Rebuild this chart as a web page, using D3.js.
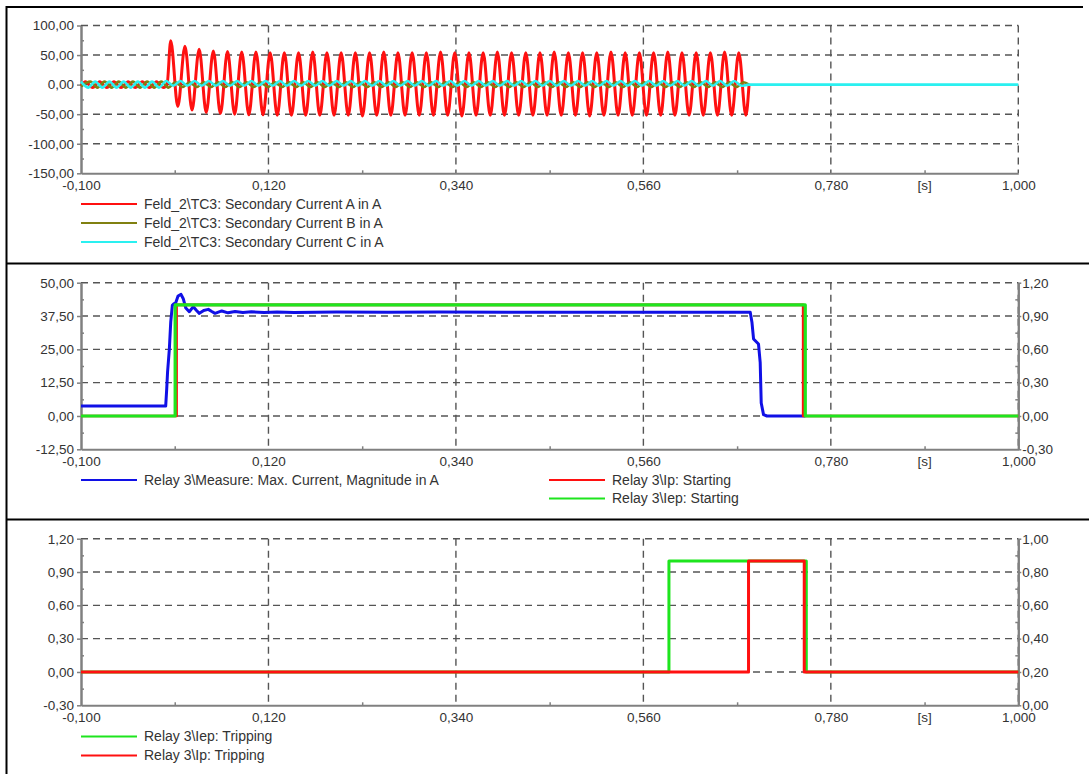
<!DOCTYPE html>
<meta charset="utf-8">
<script src="https://d3js.org/d3.v7.min.js"></script>
<style>
  body { margin: 0; background: #fff; }
  svg text { font-family: "Liberation Sans", Arial, sans-serif; font-size: 13.5px; fill: #333; }
  svg text.leg { font-size: 14px; }
</style>
<body>
<svg width="1089" height="774"></svg>
<script>
// ---------- data ----------
var HALF_CYCLE = 1 / 120;          // 60 Hz, one value per half cycle
var tFault = 0.001, tClear = 0.684;

var xTicks = [-0.1, 0.12, 0.34, 0.56, 0.78, 1.0];
var xMinor = [0.01, 0.23, 0.45, 0.67, 0.89];

// panel 1: secondary currents [A], peaks/troughs per half cycle
var preA = [5, -5, 5, -5, 5, -5, 5, -5, 5, -5, 5, -5];
var postA = [
  74, -37, 65, -43, 60, -47, 57, -49, 56, -50, 55, -51, 55, -51, 54, -52,
  54, -52, 54, -52, 55, -52, 54, -52, 54, -52, 54, -53, 54, -52, 55, -52,
  54, -52, 54, -52, 54, -52, 55, -52, 54, -53, 54, -52, 54, -52, 55, -52,
  54, -52, 54, -52, 54, -52, 55, -52, 54, -52, 54, -53, 54, -52, 55, -52,
  54, -52, 54, -52, 54, -52, 55, -52, 54, -52, 54, -52, 54, -52, 55, -52,
  54, -52
];
var valB = [
  5, -5, 5, -5, 5, -5, 5, -5, 5, -5, 5, -5,
  4, -4, 4, -4, 4, -4, 4, -4, 4, -4, 4, -4, 4, -4, 4, -4,
  4, -4, 4, -4, 4, -4, 4, -4, 4, -4, 4, -4, 4, -4, 4, -4,
  4, -4, 4, -4, 4, -4, 4, -4, 4, -4, 4, -4, 4, -4, 4, -4,
  4, -4, 4, -4, 4, -4, 4, -4, 4, -4, 4, -4, 4, -4, 4, -4,
  4, -4, 4, -4, 4, -4, 4, -4, 4, -4, 4, -4, 4, -4, 4, -4,
  4
];
var valC = [
  5, -5, 5, -5, 5, -5, 5, -5, 5, -5, 5, -5,
  6, -2, 6, -2, 6, -2, 6, -2, 6, -2, 6, -2, 6, -2, 6, -2,
  6, -2, 6, -2, 6, -2, 6, -2, 6, -2, 6, -2, 6, -2, 6, -2,
  6, -2, 6, -2, 6, -2, 6, -2, 6, -2, 6, -2, 6, -2, 6, -2,
  6, -2, 6, -2, 6, -2, 6, -2, 6, -2, 6, -2, 6, -2, 6, -2,
  6, -2, 6, -2, 6, -2, 6, -2, 6, -2, 6, -2, 6, -2, 6, -2,
  6, -2
];
var topTicks = [-150, -100, -50, 0, 50, 100];
var topMinor = [-125, -75, -25, 25, 75];

// panel 2: measured max current [A] and starting signals
var blueT = [-0.100, -0.0006, 0.0006, 0.0016, 0.0037, 0.0053, 0.0072, 0.0090, 0.0112, 0.0139,
  0.0174, 0.0200, 0.0230, 0.0271, 0.0318, 0.0356, 0.0389, 0.0440, 0.0494, 0.0535,
  0.0573, 0.0652, 0.0726, 0.0808, 0.0900, 0.1000, 0.1150, 0.1300, 0.1500, 0.2000,
  0.2600, 0.3200, 0.4000, 0.4800, 0.5600, 0.6400, 0.6854, 0.6874, 0.6893, 0.6951,
  0.6971, 0.6983, 0.7010, 0.7050, 0.7500];
var blueV = [3.7, 3.7, 10.2, 16.5, 25.2, 35.2, 41.5, 42.1, 42.5, 45.0,
  45.6, 44.0, 40.5, 39.1, 41.0, 39.6, 38.5, 39.6, 40.0, 39.2,
  38.5, 39.4, 38.7, 39.2, 38.8, 39.1, 38.8, 39.0, 38.8, 39.0,
  38.9, 39.0, 38.9, 38.9, 38.9, 38.9, 38.9, 35.2, 28.9, 27.0,
  20.0, 4.9, 0.5, 0.0, 0.0];
var ipStartT = [-0.1, 0.0122, 0.7475, 1.0], ipStartV = [0, 1, 0, 0];
var iepStartT = [-0.1, 0.0105, 0.7500, 1.0], iepStartV = [0, 1, 0, 0];
var midTicks = [-12.5, 0, 12.5, 25, 37.5, 50];
var midMinor = [-6.25, 6.25, 18.75, 31.25, 43.75];
var midRTicks = [-0.3, 0, 0.3, 0.6, 0.9, 1.2];
var midRMinor = [-0.15, 0.15, 0.45, 0.75, 1.05];

// panel 3: tripping signals
var iepTripT = [-0.1, 0.590, 0.7512, 1.0], iepTripV = [0, 1, 0, 0];
var ipTripT = [-0.1, 0.6834, 0.7488, 1.0], ipTripV = [0, 1, 0, 0];
var botTicks = [-0.3, 0, 0.3, 0.6, 0.9, 1.2];
var botMinor = [-0.15, 0.15, 0.45, 0.75, 1.05];
var botRTicks = [0, 0.2, 0.4, 0.6, 0.8, 1.0];
var botRMinor = [0.1, 0.3, 0.5, 0.7, 0.9];

// ---------- chart ----------
var svg = d3.select("svg");
var loc = d3.formatLocale({decimal: ",", thousands: ".", grouping: [3], currency: ["", ""], minus: "-"});
var fmt2 = loc.format(".2f"), fmt3 = loc.format(".3f");

var x = d3.scaleLinear().domain([-0.1, 1.0]).range([81, 1018.3]);

function wave(t0, vals) {
  return vals.map(function(v, i) { return [t0 + i * HALF_CYCLE, v]; });
}
function zip(ts, vs) { return ts.map(function(t, i) { return [t, vs[i]]; }); }

var GRID = "#555", AXIS = "#808080";

function styleAxis(sel) {
  sel.attr("font-size", null).attr("font-family", null);
  sel.select(".domain").attr("stroke", AXIS).attr("stroke-width", 2);
  sel.selectAll(".tick line").attr("stroke", AXIS).attr("stroke-width", 1.5);
}

function drawPanel(p) {
  var g = svg.append("g");
  var yL = d3.scaleLinear().domain([p.left[0], p.left[p.left.length - 1]]).range([p.bottom, p.top]);

  // dashed grid
  g.selectAll(null).data(p.left.slice(1)).join("line")
    .attr("x1", x(-0.1)).attr("x2", x(1.0))
    .attr("y1", function(d) { return yL(d); }).attr("y2", function(d) { return yL(d); })
    .attr("stroke", GRID).attr("stroke-width", 1.4).attr("stroke-dasharray", "7,5");
  g.selectAll(null).data(xTicks.slice(1)).join("line")
    .attr("x1", function(d) { return x(d); }).attr("x2", function(d) { return x(d); })
    .attr("y1", p.top).attr("y2", p.bottom)
    .attr("stroke", GRID).attr("stroke-width", 1.4).attr("stroke-dasharray", "7,5");

  // left axis, major out / minor in
  g.append("g").attr("transform", "translate(" + x(-0.1) + ",0)")
    .call(d3.axisLeft(yL).tickValues(p.left).tickSize(4).tickSizeOuter(0).tickPadding(3).tickFormat(fmt2))
    .call(styleAxis);
  g.append("g").attr("transform", "translate(" + x(-0.1) + ",0)")
    .call(d3.axisRight(yL).tickValues(p.leftMinor).tickSize(3).tickSizeOuter(0).tickFormat(""))
    .call(styleAxis);

  // right axis
  var yR = null;
  if (p.right) {
    yR = d3.scaleLinear().domain([p.right[0], p.right[p.right.length - 1]]).range([p.bottom, p.top]);
    g.append("g").attr("transform", "translate(" + x(1.0) + ",0)")
      .call(d3.axisRight(yR).tickValues(p.right).tickSize(3).tickSizeOuter(0).tickPadding(1).tickFormat(fmt2))
      .call(styleAxis);
    g.append("g").attr("transform", "translate(" + x(1.0) + ",0)")
      .call(d3.axisLeft(yR).tickValues(p.rightMinor).tickSize(3).tickSizeOuter(0).tickFormat(""))
      .call(styleAxis);
  }

  // time axis
  g.append("g").attr("transform", "translate(0," + p.bottom + ")")
    .call(d3.axisBottom(x).tickValues(xTicks).tickSize(0).tickSizeOuter(0).tickPadding(7).tickFormat(fmt3))
    .call(styleAxis);
  g.append("g").attr("transform", "translate(0," + p.bottom + ")")
    .call(d3.axisTop(x).tickValues(xMinor).tickSize(3).tickSizeOuter(0).tickFormat(""))
    .call(styleAxis)
    .select(".domain").remove();
  g.append("text").attr("x", x(0.89)).attr("y", p.bottom + 7).attr("dy", "0.71em")
    .attr("text-anchor", "middle").text("[s]");

  // series
  p.series.forEach(function(s) {
    var y = s.axis === "right" ? yR : yL;
    var line = d3.line()
      .x(function(d) { return x(d[0]); })
      .y(function(d) { return y(d[1]); })
      .curve(s.curve || d3.curveLinear);
    g.append("path").datum(s.data)
      .attr("fill", "none").attr("stroke", s.color).attr("stroke-width", s.width || 3)
      .attr("stroke-linejoin", "round")
      .attr("d", line);
  });

  // legend
  var lg = g.selectAll(null).data(p.legend).join("g")
    .attr("transform", function(d) { return "translate(" + d.x + "," + d.y + ")"; });
  lg.append("line").attr("x1", 0).attr("x2", 56)
    .attr("stroke", function(d) { return d.color; }).attr("stroke-width", 2);
  lg.append("text").attr("class", "leg").attr("x", 63).attr("dy", "0.35em")
    .text(function(d) { return d.name; });
}

var RED = "#ff1010", GREEN = "#1ee51e", BLUE = "#1010e6", CYAN = "#2af0f0", OLIVE = "#808010";

var curA = [[-0.1, -2]].concat(wave(-0.0947, preA), [[tFault, 0]], wave(0.0053, postA), [[tClear, 0]]);
var curB = [[-0.1, -3]].concat(wave(-0.0891, valB), [[tClear, 0]]);
var curC = wave(-0.1, valC).concat([[tClear, 0], [1.0, 0]]);

drawPanel({
  top: 25.5, bottom: 173.3, left: topTicks, leftMinor: topMinor,
  series: [
    {data: curA, color: RED, width: 3, curve: d3.curveMonotoneX},
    {data: curB, color: OLIVE, width: 2.6, curve: d3.curveMonotoneX},
    {data: curC, color: CYAN, width: 2.6, curve: d3.curveMonotoneX}
  ],
  legend: [
    {x: 81, y: 204, color: RED, name: "Feld_2\\TC3: Secondary Current A in A"},
    {x: 81, y: 223, color: OLIVE, name: "Feld_2\\TC3: Secondary Current B in A"},
    {x: 81, y: 242, color: CYAN, name: "Feld_2\\TC3: Secondary Current C in A"}
  ]
});

drawPanel({
  top: 282.7, bottom: 449.3, left: midTicks, leftMinor: midMinor, right: midRTicks, rightMinor: midRMinor,
  series: [
    {data: zip(blueT, blueV), color: BLUE, width: 3},
    {data: zip(ipStartT, ipStartV), color: RED, width: 2.6, axis: "right", curve: d3.curveStepAfter},
    {data: zip(iepStartT, iepStartV), color: GREEN, width: 3.2, axis: "right", curve: d3.curveStepAfter}
  ],
  legend: [
    {x: 81, y: 480, color: BLUE, name: "Relay 3\\Measure: Max. Current, Magnitude in A"},
    {x: 549, y: 480, color: RED, name: "Relay 3\\Ip: Starting"},
    {x: 549, y: 498.5, color: GREEN, name: "Relay 3\\Iep: Starting"}
  ]
});

drawPanel({
  top: 538.7, bottom: 705.3, left: botTicks, leftMinor: botMinor, right: botRTicks, rightMinor: botRMinor,
  series: [
    {data: zip(iepTripT, iepTripV), color: GREEN, width: 3},
    {data: zip(ipTripT, ipTripV), color: RED, width: 3}
  ].map(function(s) { s.curve = d3.curveStepAfter; return s; }),
  legend: [
    {x: 81, y: 736.5, color: GREEN, name: "Relay 3\\Iep: Tripping"},
    {x: 81, y: 755.5, color: RED, name: "Relay 3\\Ip: Tripping"}
  ]
});

// panel frames
var frame = svg.append("g").attr("stroke", "#000").attr("stroke-width", 2);
frame.append("line").attr("x1", 6).attr("x2", 1083).attr("y1", 7).attr("y2", 7);
frame.append("line").attr("x1", 6.5).attr("x2", 6.5).attr("y1", 6).attr("y2", 774);
frame.append("line").attr("x1", 6).attr("x2", 1089).attr("y1", 263.5).attr("y2", 263.5);
frame.append("line").attr("x1", 6).attr("x2", 1089).attr("y1", 519.5).attr("y2", 519.5);
</script>
</body>
